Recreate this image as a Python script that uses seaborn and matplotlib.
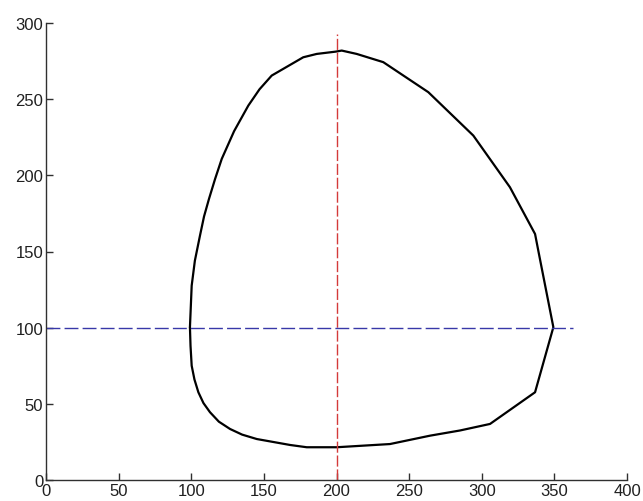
import numpy as np
import pandas as pd
import matplotlib
matplotlib.use("Agg")
import matplotlib.pyplot as plt
import seaborn as sns

# Closed contour traced clockwise from its leftmost point
contour_x = [99.1, 100.3, 102.5, 106.0, 108.8, 112.2, 116.4, 121.0, 129.5, 139.3,
             147.0, 155.4, 177.1, 186.4, 199.4, 203.6, 213.9, 232.2, 263.2, 294.2,
             319.4, 336.7, 339.6, 349.3, 336.7, 305.7, 285.0, 264.4, 236.8, 200.1,
             179.5, 168.0, 145.1, 135.0, 126.7, 119.0, 112.9, 108.4, 104.9, 102.2,
             100.3, 99.5, 99.1]
contour_y = [100.3, 127.6, 144.0, 160.4, 173.0, 184.5, 197.6, 210.8, 229.0, 245.8,
             256.5, 265.5, 277.5, 279.7, 281.2, 281.9, 279.7, 274.3, 254.6, 226.1,
             192.2, 161.5, 147.3, 100.3, 57.6, 36.8, 32.5, 29.1, 23.6, 21.5,
             21.5, 23.0, 26.9, 29.8, 33.5, 38.3, 44.5, 50.5, 57.6, 66.0,
             75.0, 88.0, 100.3]

# Centre cross-hair lines
vline_x = [200, 200]
vline_y = [0, 293]
hline_x = [0, 363]
hline_y = [100, 100]

x_ticks = [0, 50, 100, 150, 200, 250, 300, 350, 400]
y_ticks = [0, 50, 100, 150, 200, 250, 300]

sns.set_style("ticks")
plt.rcParams["font.family"] = ["Liberation Sans", "DejaVu Sans"]

fig = plt.figure(figsize=(6.43, 5.02), dpi=100)
ax = fig.add_axes([46 / 643, 21 / 502, (627 - 46) / 643, (481 - 24) / 502])

contour = pd.DataFrame({"x": contour_x, "y": contour_y})
sns.lineplot(data=contour, x="x", y="y", sort=False, estimator=None,
             color="black", linewidth=1.6, ax=ax)

sns.lineplot(x=vline_x, y=vline_y, sort=False, estimator=None, color="#d43a3a",
             linewidth=1.0, ax=ax).lines[-1].set_dashes((8, 2))
sns.lineplot(x=hline_x, y=hline_y, sort=False, estimator=None, color="#3838a8",
             linewidth=1.0, ax=ax).lines[-1].set_dashes((10, 3))

ax.set_xlim(0, 400)
ax.set_ylim(0, 300)
ax.set_xticks(x_ticks)
ax.set_yticks(y_ticks)
ax.set_xlabel("")
ax.set_ylabel("")

for side in ("top", "right"):
    ax.spines[side].set_visible(False)
for side in ("left", "bottom"):
    ax.spines[side].set_color("#303030")
    ax.spines[side].set_linewidth(1.0)

ax.tick_params(direction="in", length=5, width=1.0, color="#303030",
               labelsize=12, labelcolor="#202020", pad=2)

fig.savefig("out.png", dpi=100)
